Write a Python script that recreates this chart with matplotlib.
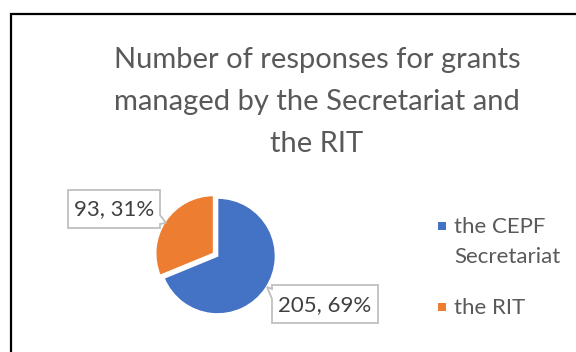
import matplotlib
matplotlib.use("Agg")
import matplotlib.pyplot as plt
from matplotlib.patches import Polygon, Rectangle

W, H = 576, 352

categories = ["the CEPF\nSecretariat", "the RIT"]
responses = [205, 93]
colors = ["#4472C4", "#ED7D31"]
title = "Number of responses for grants\nmanaged by the Secretariat and\nthe RIT"

plt.rcParams["font.family"] = ["Lato", "DejaVu Sans"]


def fx(x):
    return x / W


def fy(y):
    return 1 - y / H


def callout(fig, x0, y0, x1, y1, notch):
    # rectangle with a small pointer on one side, pixel coords from top-left
    if notch == "right":
        pts = [(x0, y0), (x1, y0), (x1, y1 - 13), (x1 + 6, y1 - 5),
               (x1, y1 - 4), (x1, y1), (x0, y1)]
    else:
        pts = [(x0, y0), (x1, y0), (x1, y1), (x0, y1), (x0, y0 + 14),
               (x0 - 5, y0 + 2), (x0, y0 + 4)]
    poly = Polygon([(fx(a), fy(b)) for a, b in pts], closed=True,
                   transform=fig.transFigure, facecolor="white",
                   edgecolor="#BFBFBF", linewidth=1.3, zorder=3)
    fig.add_artist(poly)


fig = plt.figure(figsize=(W / 100, H / 100), dpi=100)

# chart frame, runs off the right and bottom edges
fig.add_artist(Rectangle((fx(11), fy(400)), fx(700), 400 / H - 14 / H,
                         transform=fig.transFigure, fill=False,
                         edgecolor="black", linewidth=1.6))

fig.text(fx(317), fy(47), title, ha="center", va="top", fontsize=21,
         color="#595959", linespacing=1.76)

# pie
cx, cy, r = 217.5, 256, 58
ax = fig.add_axes([fx(cx - r), fy(cy + r), 2 * r / W, 2 * r / H])
wedges, _ = ax.pie(responses, colors=colors, startangle=90, counterclock=False,
                   explode=[0, 0.08], radius=1,
                   wedgeprops=dict(edgecolor="white", linewidth=1.2))
for w in wedges:
    w.set_clip_on(False)
ax.set_xlim(-1, 1)
ax.set_ylim(-1, 1)
ax.set_aspect("equal")
ax.axis("off")

total = sum(responses)
labels = [f"{v}, {round(100 * v / total)}%" for v in responses]

# data labels
callout(fig, 272, 285, 378, 323, "left")
fig.text(fx(325), fy(305), labels[0], ha="center", va="center",
         fontsize=16, color="#404040", zorder=4)
callout(fig, 68, 190, 160, 228, "right")
fig.text(fx(114), fy(209), labels[1], ha="center", va="center",
         fontsize=16, color="#404040", zorder=4)

# legend
legend_y = [226, 307]
for cat, col, ly in zip(categories, colors, legend_y):
    fig.add_artist(Rectangle((fx(437.5), fy(ly + 4)), 8 / W, 8 / H,
                             transform=fig.transFigure, facecolor=col,
                             edgecolor="none"))
    fig.text(fx(454), fy(ly - 9), cat, ha="left", va="top", fontsize=16,
             color="#595959", linespacing=1.6)

fig.savefig("out.png", dpi=100)
